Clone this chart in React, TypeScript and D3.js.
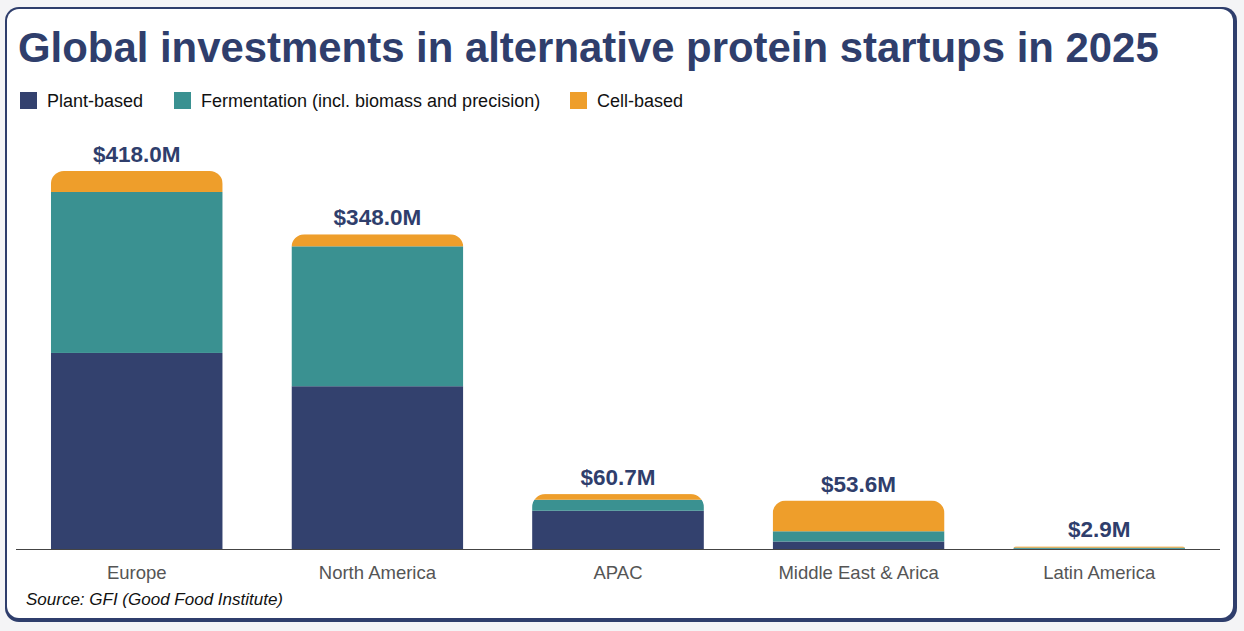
import React, { useEffect, useRef } from 'react';
import * as d3 from 'd3';

// Regions and their per-segment investment (USD millions)
const regions = ['Europe', 'North America', 'APAC', 'Middle East & Arica', 'Latin America'];
const plantBased = [216.8, 180.0, 42.3, 8.3, 0.2];
const fermentation = [178.0, 154.7, 12.2, 11.3, 1.3];
const cellBased = [23.2, 13.3, 6.2, 34.0, 1.4];
const totals = [418.0, 348.0, 60.7, 53.6, 2.9];

const seriesNames = ['Plant-based', 'Fermentation (incl. biomass and precision)', 'Cell-based'];
const seriesColors = ['#33416e', '#3a9191', '#ee9e2b'];

const W = 1244;
const H = 631;
const NAVY = '#2f3e6c';
const FONT = '"Liberation Sans", Arial, Helvetica, sans-serif';

const App = () => {
  const svgRef = useRef<SVGSVGElement>(null);

  useEffect(() => {
    const svg = d3.select(svgRef.current);
    svg.selectAll('*').remove();

    // card with heavier bottom/right edge
    svg.append('rect')
      .attr('x', 5).attr('y', 7).attr('width', 1232).attr('height', 615)
      .attr('rx', 14).attr('fill', NAVY);
    svg.append('rect')
      .attr('x', 7).attr('y', 9).attr('width', 1226).attr('height', 609)
      .attr('rx', 12).attr('fill', '#ffffff');

    svg.append('text')
      .attr('x', 18).attr('y', 62)
      .attr('font-family', FONT).attr('font-weight', 700).attr('font-size', 41.9)
      .attr('fill', NAVY)
      .text('Global investments in alternative protein startups in 2025');

    // legend
    const legendX = [20, 174, 570];
    const legend = svg.append('g');
    seriesNames.forEach((name, i) => {
      legend.append('rect')
        .attr('x', legendX[i]).attr('y', 92).attr('width', 17).attr('height', 17)
        .attr('fill', seriesColors[i]);
      legend.append('text')
        .attr('x', legendX[i] + 27).attr('y', 107)
        .attr('font-family', FONT).attr('font-size', 18).attr('fill', '#111')
        .text(name);
    });

    const baseline = 549;
    const x = d3.scaleBand<string>()
      .domain(regions)
      .range([16, 1220])
      .paddingInner(0.286)
      .paddingOuter(0.145);
    const y = d3.scaleLinear()
      .domain([0, 418])
      .range([baseline, 171]);

    const rows = regions.map((r, i) => ({
      region: r,
      plant: plantBased[i],
      ferm: fermentation[i],
      cell: cellBased[i],
      total: totals[i],
    }));
    const stack = d3.stack<any>().keys(['plant', 'ferm', 'cell']);
    const layers = stack(rows);

    // rounded top corners for each bar column
    const defs = svg.append('defs');
    rows.forEach((d, i) => {
      const x0 = x(d.region)!;
      const w = x.bandwidth();
      const top = y(d.total);
      const h = baseline - top;
      const r = Math.min(13, h);
      const p = d3.path();
      p.moveTo(x0, baseline);
      p.lineTo(x0, top + r);
      p.arcTo(x0, top, x0 + r, top, r);
      p.lineTo(x0 + w - r, top);
      p.arcTo(x0 + w, top, x0 + w, top + r, r);
      p.lineTo(x0 + w, baseline);
      p.closePath();
      defs.append('clipPath').attr('id', `bar-clip-${i}`)
        .append('path').attr('d', p.toString());
    });

    const barsG = svg.append('g');
    rows.forEach((d, i) => {
      const g = barsG.append('g').attr('clip-path', `url(#bar-clip-${i})`);
      layers.forEach((layer, k) => {
        const seg = layer[i];
        g.append('rect')
          .attr('x', x(d.region)!)
          .attr('y', y(seg[1]))
          .attr('width', x.bandwidth())
          .attr('height', Math.max(0, y(seg[0]) - y(seg[1])))
          .attr('fill', seriesColors[k]);
      });
    });

    // x axis line
    svg.append('line')
      .attr('x1', 16).attr('x2', 1220)
      .attr('y1', baseline + 0.5).attr('y2', baseline + 0.5)
      .attr('stroke', '#444').attr('stroke-width', 1);

    // category labels
    svg.append('g').selectAll('text')
      .data(rows).enter().append('text')
      .attr('x', d => x(d.region)! + x.bandwidth() / 2)
      .attr('y', 579)
      .attr('text-anchor', 'middle')
      .attr('font-family', FONT).attr('font-size', 18.5).attr('fill', '#555')
      .text(d => d.region);

    // total labels
    svg.append('g').selectAll('text')
      .data(rows).enter().append('text')
      .attr('x', d => x(d.region)! + x.bandwidth() / 2)
      .attr('y', d => y(d.total) - 9)
      .attr('text-anchor', 'middle')
      .attr('font-family', FONT).attr('font-weight', 700).attr('font-size', 22.5)
      .attr('fill', NAVY)
      .text(d => `$${d.total.toFixed(1)}M`);

    svg.append('text')
      .attr('x', 26).attr('y', 605)
      .attr('font-family', FONT).attr('font-style', 'italic').attr('font-size', 17)
      .attr('fill', '#111')
      .text('Source: GFI (Good Food Institute)');
  }, []);

  return (
    <svg ref={svgRef} width={W} height={H}
      style={{ position: 'absolute', left: 0, top: 0, background: '#f4f4f6' }} />
  );
};

export default App;
